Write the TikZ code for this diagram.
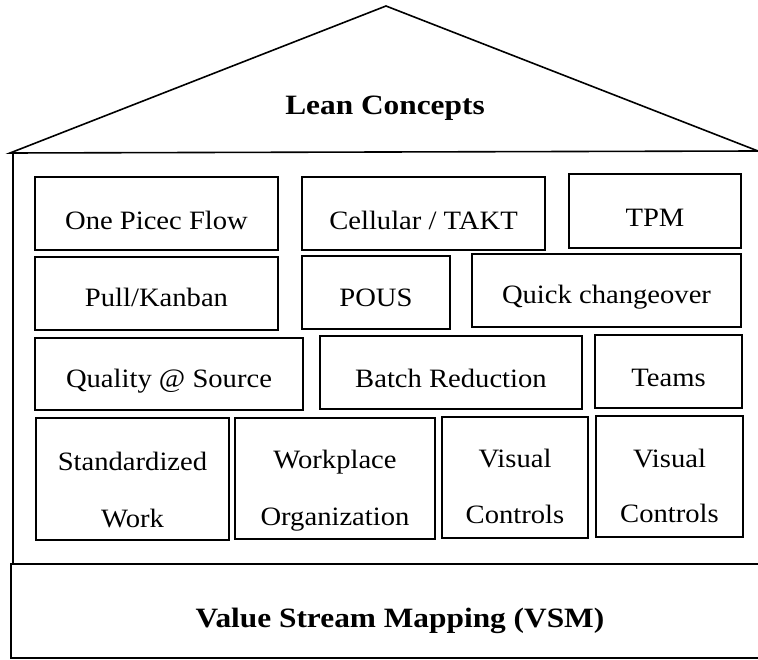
\documentclass[tikz,border=0pt]{standalone}
\usepackage{fontspec}
\setmainfont[FakeStretch=1.08]{Liberation Serif}
\newfontfamily\headfont[FakeStretch=1.12]{Liberation Serif}
\usetikzlibrary{fit}
\tikzset{
  x=1pt, y=-1pt,
  frame/.style={line width=1.6pt, line join=miter},
  cellbox/.style={draw, line width=1.6pt, inner sep=0pt},
  celltext/.style={anchor=base, inner sep=0pt, font=\fontsize{26.5}{30}\selectfont},
  headtext/.style={anchor=base, inner sep=0pt, font=\headfont\bfseries\fontsize{28}{32}\selectfont},
}
% \cellbox{name}{x1}{y1}{x2}{y2}
\newcommand{\mkcell}[5]{\node[cellbox, fit={(#2,#3) (#4,#5)}] (#1) {};}
\begin{document}
\begin{tikzpicture}
\useasboundingbox (0,0) rectangle (758,660);

% roof
\coordinate (eaveL) at (10,153);
\coordinate (apex) at (386,6);
\coordinate (eaveR) at (758,151);
\draw[frame] (eaveL) -- (apex) -- (eaveR) -- cycle;
\node[headtext] (lean) at (385,115) {Lean Concepts};

% wall of the house
\coordinate (wallTop) at (13,153);
\coordinate (wallBot) at (13,565);
\draw[frame] (wallTop) -- (wallBot);

% foundation
\coordinate (baseTL) at (11,564);
\coordinate (baseTR) at (758,564);
\coordinate (baseBL) at (11,658);
\coordinate (baseBR) at (758,658);
\draw[frame] (baseTR) -- (baseTL) -- (baseBL) -- (baseBR);
\node[headtext] (vsm) at (400,627) {Value Stream Mapping (VSM)};

% row 1
\mkcell{flow}{35}{177}{278}{250}
\node[celltext] (flowt) at (156.5,230) {One Picec Flow};
\mkcell{takt}{302}{177}{545}{250}
\node[celltext] (taktt) at (423.5,230) {Cellular / TAKT};
\mkcell{tpm}{569}{174}{741}{248}
\node[celltext] (tpmt) at (655,227) {TPM};

% row 2
\mkcell{pull}{35}{257}{278}{330}
\node[celltext] (pullt) at (156.5,307) {Pull/Kanban};
\mkcell{pous}{302}{256}{450}{329}
\node[celltext] (poust) at (376,307) {POUS};
\mkcell{quick}{472}{254}{741}{327}
\node[celltext] (quickt) at (606.5,304) {Quick changeover};

% row 3
\mkcell{qual}{35}{338}{303}{410}
\node[celltext] (qualt) at (169,388) {Quality @ Source};
\mkcell{batch}{320}{336}{582}{409}
\node[celltext] (batcht) at (451,388) {Batch Reduction};
\mkcell{teams}{595}{335}{742}{408}
\node[celltext] (teamst) at (668.5,387) {Teams};

% row 4
\mkcell{std}{36}{418}{229}{540}
\node[celltext] (std1) at (132.5,470) {Standardized};
\node[celltext] (std2) at (132.5,527) {Work};
\mkcell{wpo}{235}{418}{435}{539}
\node[celltext] (wpo1) at (335,468) {Workplace};
\node[celltext] (wpo2) at (335,525) {Organization};
\mkcell{vis}{442}{417}{588}{538}
\node[celltext] (vis1) at (515,467) {Visual};
\node[celltext] (vis2) at (515,523) {Controls};
\mkcell{visb}{596}{416}{743}{537}
\node[celltext] (visb1) at (669.5,467) {Visual};
\node[celltext] (visb2) at (669.5,522) {Controls};
\end{tikzpicture}
\end{document}
